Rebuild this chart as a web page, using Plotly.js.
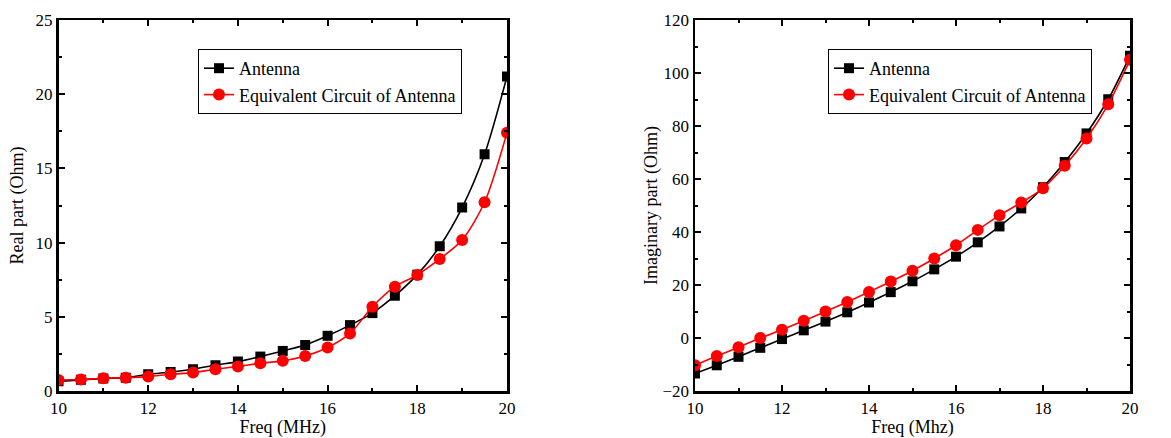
<!DOCTYPE html>
<html><head><meta charset="utf-8">
<script src="https://cdn.plot.ly/plotly-3.0.1.min.js"></script>
<style>html,body{margin:0;padding:0;background:#fff}#c{width:1171px;height:438px}</style>
</head><body><div id="c"></div>
<script>
const freq = [10,10.5,11,11.5,12,12.5,13,13.5,14,14.5,15,15.5,16,16.5,17,17.5,18,18.5,19,19.5,20];
const realAntenna = [0.65,0.75,0.85,0.9,1.13,1.28,1.47,1.74,1.98,2.32,2.7,3.1,3.72,4.44,5.25,6.42,7.84,9.75,12.36,15.95,21.2];
const realCircuit = [0.74,0.77,0.86,0.9,0.97,1.13,1.24,1.47,1.65,1.87,2.03,2.36,2.93,3.88,5.68,7.03,7.82,8.9,10.18,12.72,17.41];
const imagAntenna = [-13.4,-10.3,-7.1,-3.7,-0.4,2.9,6.2,9.7,13.4,17.3,21.4,25.9,30.7,36.1,42.1,48.9,56.9,66.4,77.2,90.1,106.5];
const imagCircuit = [-10.3,-6.8,-3.5,0,3.1,6.5,10,13.6,17.4,21.3,25.4,30,35,40.8,46.3,51.1,56.5,65,75.3,88.2,105];
const names = ["Antenna","Equivalent Circuit of Antenna"];

const F = '"Liberation Serif", "Times New Roman", Times, serif';
function tr(x,y,name,color,sym,size,xa,ya,leg){
  return {x:x,y:y,name:name,type:'scatter',mode:'lines+markers',xaxis:xa,yaxis:ya,legend:leg,
    line:{color:color,width:1.6,shape:'spline',smoothing:0.8},
    marker:{symbol:sym,size:size,color:color}};
}
const data = [
  tr(freq,realAntenna,names[0],'#000','square',10,'x','y','legend'),
  tr(freq,realCircuit,names[1],'#ff0000','circle',12,'x','y','legend'),
  tr(freq,imagAntenna,names[0],'#000','square',10,'x2','y2','legend2'),
  tr(freq,imagCircuit,names[1],'#ff0000','circle',12,'x2','y2','legend2')
];
function xax(dom,title,anchor){
  return {domain:dom,anchor:anchor,range:[10,20],tickmode:'linear',dtick:2,tick0:10,ticks:'inside',ticklen:6,tickwidth:2,tickcolor:'#000',
    showline:true,linecolor:'#000',linewidth:2.5,mirror:'ticks',showgrid:false,zeroline:false,
    minor:{dtick:1,ticks:'inside',ticklen:3,tickwidth:2,tickcolor:'#000',showgrid:false},
    tickfont:{family:F,size:17,color:'#000'},
    title:{text:title,font:{family:F,size:18,color:'#000'},standoff:1}};
}
function yax(dom,range,dt,mdt,title,anchor,so){
  return {domain:dom,anchor:anchor,range:range,tickmode:'linear',dtick:dt,tick0:0,ticks:'inside',ticklen:6,tickwidth:2,tickcolor:'#000',
    showline:true,linecolor:'#000',linewidth:2.5,mirror:'ticks',showgrid:false,zeroline:false,
    minor:{dtick:mdt,ticks:'inside',ticklen:3,tickwidth:2,tickcolor:'#000',showgrid:false},
    tickfont:{family:F,size:17,color:'#000'},
    title:{text:title,font:{family:F,size:18,color:'#000'},standoff:so}};
}
const ydom = [(438-391)/438,(438-20)/438];
const layout = {
  width:1171,height:438,margin:{l:0,r:0,t:0,b:0},paper_bgcolor:'#fff',plot_bgcolor:'rgba(0,0,0,0)',
  showlegend:true,font:{family:F,color:'#000'},
  xaxis:xax([58.5/1171,507/1171],'Freq (MHz)','y'),
  yaxis:yax(ydom,[0,25],5,2.5,'Real part (Ohm)','x',8),
  xaxis2:xax([695/1171,1130/1171],'Freq (Mhz)','y2'),
  yaxis2:yax(ydom,[-20,120],20,10,'Imaginary part (Ohm)','x2',0),
  legend:{x:198/1171,y:(438-49)/438,xanchor:'left',yanchor:'top',xref:'paper',yref:'paper',
    bordercolor:'#000',borderwidth:1,bgcolor:'#fff',font:{family:F,size:18,color:'#000'},
    tracegroupgap:0,itemwidth:30},
  legend2:{x:828/1171,y:(438-49)/438,xanchor:'left',yanchor:'top',xref:'paper',yref:'paper',
    bordercolor:'#000',borderwidth:1,bgcolor:'#fff',font:{family:F,size:18,color:'#000'},
    tracegroupgap:0,itemwidth:30}
};
Plotly.newPlot('c',data,layout,{staticPlot:true});
</script></body></html>
